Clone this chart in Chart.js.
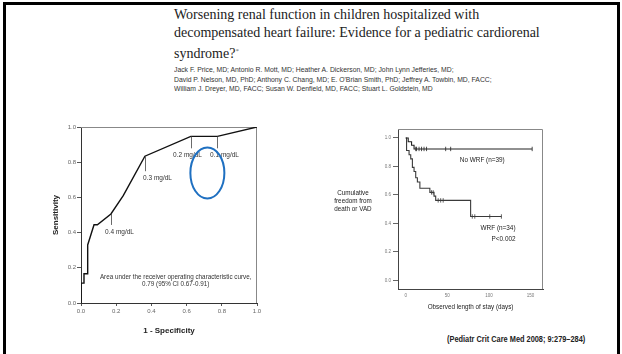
<!DOCTYPE html>
<html>
<head>
<meta charset="utf-8">
<script src="https://cdn.jsdelivr.net/npm/chart.js@4.4.1/dist/chart.umd.min.js"></script>
<style>
  html, body { margin: 0; padding: 0; background: #fff; }
  body { width: 622px; height: 354px; position: relative; overflow: hidden; }
  #frame { position: absolute; left: 3px; top: 2px; width: 611px; height: 400px; border: 3px solid #000; border-bottom: none; }
  #title { position: absolute; left: 174px; top: 6px; font: 14px/18px "Liberation Serif", serif; color: #222; white-space: nowrap; }
  #title sup { font-size: 7px; vertical-align: 5px; color: #666; }
  #authors { position: absolute; left: 174px; top: 65px; font: 7.5px/9.5px "Liberation Sans", sans-serif; color: #333; white-space: nowrap; transform: scaleX(0.91); transform-origin: 0 0; }
  #cite { position: absolute; left: 447px; top: 334px; font: bold 9px "Liberation Sans", sans-serif; color: #222; white-space: nowrap; transform: scaleX(0.82); transform-origin: 0 0; }
  #roc { position: absolute; left: 0; top: 110px; }
  #km { position: absolute; left: 330px; top: 115px; }
</style>
</head>
<body>
<div id="frame"></div>
<div id="title">Worsening renal function in children hospitalized with<br>decompensated heart failure: Evidence for a pediatric cardiorenal<br>syndrome?<sup>*</sup></div>
<div id="authors">Jack F. Price, MD; Antonio R. Mott, MD; Heather A. Dickerson, MD; John Lynn Jefferies, MD;<br>David P. Nelson, MD, PhD; Anthony C. Chang, MD; E. O'Brian Smith, PhD; Jeffrey A. Towbin, MD, FACC;<br>William J. Dreyer, MD, FACC; Susan W. Denfield, MD, FACC; Stuart L. Goldstein, MD</div>
<canvas id="roc" width="280" height="244"></canvas>
<canvas id="km" width="240" height="200"></canvas>
<div id="cite">(Pediatr Crit Care Med 2008; 9:279–284)</div>
<script>
// ROC curve, creatinine rise cut-offs
const rocFpr = [0, 0, 0.017, 0.017, 0.038, 0.038, 0.074, 0.093, 0.17, 0.24, 0.363, 0.624, 0.775, 1.0];
const rocTpr = [0, 0.113, 0.113, 0.166, 0.166, 0.33, 0.445, 0.445, 0.506, 0.61, 0.834, 0.947, 0.947, 1.0];
const rocTicks = [0, 0.2, 0.4, 0.6, 0.8, 1.0];
const cutoffLabels = ['0.4 mg/dL', '0.3 mg/dL', '0.2 mg/dL', '0.1 mg/dL'];
const cutoffFpr = [0.17, 0.363, 0.624, 0.775];
const cutoffTpr = [0.506, 0.834, 0.947, 0.947];
const aucLines = ['Area under the receiver operating characteristic curve,', '0.79 (95% CI 0.67-0.91)'];

// Kaplan-Meier, freedom from death or VAD
const noWrfDays = [0, 3, 7, 10, 152];
const noWrfSurv = [1.0, 0.974, 0.949, 0.923, 0.923];
const noWrfCensorDays = [12, 13, 16, 19, 22, 25, 48, 54, 152];
const wrfDays = [0, 1, 4, 6, 8, 10, 12, 14, 17, 29, 34, 36, 78, 115];
const wrfSurv = [1.0, 0.912, 0.882, 0.853, 0.794, 0.765, 0.721, 0.691, 0.647, 0.618, 0.592, 0.562, 0.449, 0.449];
const wrfCensorDays = [31, 33, 39, 42, 45, 80, 83, 101, 115];
const kmYTicks = [0, 0.2, 0.4, 0.6, 0.8, 1.0];
const kmXTicks = [0, 50, 100, 150];
const groupLabels = ['No WRF (n=39)', 'WRF (n=34)', 'P<0.002'];

const SANS = '"Liberation Sans", Arial, sans-serif';

// survival level at a censoring time (last step at or before it)
function levelAt(days, surv, t) {
  let v = surv[0];
  for (let i = 0; i < days.length; i++) if (days[i] <= t) v = surv[i];
  return v;
}

const plotFrame = {
  id: 'plotFrame',
  beforeDatasetsDraw(chart, args, opts) {
    const { ctx, chartArea: a } = chart;
    ctx.save();
    ctx.strokeStyle = opts.color || '#888';
    ctx.lineWidth = 1;
    ctx.beginPath();
    ctx.moveTo(a.left, a.top + 0.5);
    ctx.lineTo(a.right - 0.5, a.top + 0.5);
    ctx.lineTo(a.right - 0.5, a.bottom);
    ctx.stroke();
    ctx.restore();
  }
};

const rocNotes = {
  id: 'rocNotes',
  afterDatasetsDraw(chart) {
    const { ctx, scales: { x, y } } = chart;
    const drop = [11, 15, 12, 12];
    const dx = [8, 12, -4, 7];
    const dy = [18, 22, 19, 19];
    ctx.save();
    ctx.strokeStyle = '#444';
    ctx.lineWidth = 0.8;
    ctx.fillStyle = '#333';
    ctx.font = '6.5px ' + SANS;
    ctx.textAlign = 'center';
    ctx.textBaseline = 'middle';
    cutoffLabels.forEach((lab, i) => {
      const px = Math.round(x.getPixelForValue(cutoffFpr[i])) + 0.5;
      const py = y.getPixelForValue(cutoffTpr[i]);
      ctx.beginPath();
      ctx.moveTo(px, py);
      ctx.lineTo(px, py + drop[i]);
      ctx.stroke();
      ctx.fillText(lab, px + dx[i], py + dy[i]);
    });
    ctx.font = '6.3px ' + SANS;
    const cx = x.getPixelForValue(0.538);
    const cy = y.getPixelForValue(0.144);
    aucLines.forEach((t, i) => ctx.fillText(t, cx, cy + i * 7));
    // highlight ring
    ctx.strokeStyle = '#1f70c1';
    ctx.lineWidth = 2;
    ctx.beginPath();
    ctx.ellipse(x.getPixelForValue(0.718), y.getPixelForValue(0.739), 17, 25.5, 0, 0, Math.PI * 2);
    ctx.stroke();
    ctx.restore();
  }
};

const kmNotes = {
  id: 'kmNotes',
  afterDatasetsDraw(chart) {
    const { ctx, chartArea: a, scales: { x, y } } = chart;
    ctx.save();
    ctx.fillStyle = '#222';
    ctx.font = '6.4px ' + SANS;
    ctx.textBaseline = 'middle';
    ctx.textAlign = 'center';
    ctx.fillText(groupLabels[0], x.getPixelForValue(92), y.getPixelForValue(0.846));
    ctx.textAlign = 'right';
    ctx.fillText(groupLabels[1], x.getPixelForValue(132), y.getPixelForValue(0.368));
    ctx.fillText(groupLabels[2], x.getPixelForValue(132), y.getPixelForValue(0.286));
    ctx.textAlign = 'center';
    ctx.font = '6.3px ' + SANS;
    ['Cumulative', 'freedom from', 'death or VAD'].forEach((t, i) => {
      ctx.fillText(t, a.left - 45, a.top + 64 + i * 8.2);
    });
    ctx.restore();
  }
};

new Chart(document.getElementById('roc'), {
  type: 'scatter',
  data: {
    datasets: [{
      data: rocFpr.map((v, i) => ({ x: v, y: rocTpr[i] })),
      showLine: true,
      borderColor: '#111',
      borderWidth: 1.4,
      pointRadius: 0,
      tension: 0
    }]
  },
  options: {
    responsive: false,
    animation: false,
    layout: { padding: { left: 0, top: 17, right: 23, bottom: 0 } },
    plugins: { legend: { display: false }, tooltip: { enabled: false }, plotFrame: { color: '#888' } },
    scales: {
      x: {
        type: 'linear', min: 0, max: 1,
        afterBuildTicks: s => { s.ticks = rocTicks.map(v => ({ value: v })); },
        afterFit: s => { s.height = 51; },
        ticks: { font: { size: 6, family: SANS }, color: '#666', padding: 2, maxRotation: 0, callback: v => v.toFixed(1) },
        grid: { drawOnChartArea: false, tickLength: 3, color: '#555' },
        border: { color: '#333', width: 1 },
        title: { display: true, text: '1 - Specificity', color: '#222', font: { size: 8, weight: 'bold', family: SANS }, padding: { top: 0, bottom: 18 } }
      },
      y: {
        type: 'linear', min: 0, max: 1,
        afterBuildTicks: s => { s.ticks = rocTicks.map(v => ({ value: v })); },
        afterFit: s => { s.width = 81; },
        ticks: { font: { size: 6, family: SANS }, color: '#666', padding: 1, callback: v => v.toFixed(1) },
        grid: { drawOnChartArea: false, tickLength: 4, color: '#555' },
        border: { color: '#333', width: 1 },
        title: { display: true, text: 'Sensitivity', color: '#222', font: { size: 8, weight: 'bold', family: SANS }, padding: { top: 51, bottom: 0 } }
      }
    }
  },
  plugins: [plotFrame, rocNotes]
});

const censorStyle = { showLine: false, pointStyle: 'line', rotation: 90, pointRadius: 2.2, pointBorderWidth: 0.8 };

new Chart(document.getElementById('km'), {
  type: 'scatter',
  data: {
    datasets: [
      { data: noWrfDays.map((d, i) => ({ x: d, y: noWrfSurv[i] })), showLine: true, stepped: true, borderColor: '#222', borderWidth: 1.1, pointRadius: 0 },
      { data: wrfDays.map((d, i) => ({ x: d, y: wrfSurv[i] })), showLine: true, stepped: true, borderColor: '#3a3a3a', borderWidth: 1.1, pointRadius: 0 },
      Object.assign({ data: noWrfCensorDays.map(d => ({ x: d, y: levelAt(noWrfDays, noWrfSurv, d) })), borderColor: '#222' }, censorStyle),
      Object.assign({ data: wrfCensorDays.map(d => ({ x: d, y: levelAt(wrfDays, wrfSurv, d) })), borderColor: '#3a3a3a' }, censorStyle)
    ]
  },
  options: {
    responsive: false,
    animation: false,
    layout: { padding: { left: 0, top: 14, right: 27, bottom: 0 } },
    plugins: { legend: { display: false }, tooltip: { enabled: false }, plotFrame: { color: '#888' } },
    scales: {
      x: {
        type: 'linear', min: -9.3, max: 165,
        afterBuildTicks: s => { s.ticks = kmXTicks.map(v => ({ value: v })); },
        afterFit: s => { s.height = 26; },
        ticks: { font: { size: 4.5, family: SANS }, color: '#777', padding: 4.3, maxRotation: 0 },
        grid: { drawOnChartArea: false, drawTicks: false },
        border: { color: '#444', width: 1 },
        title: { display: true, text: 'Observed length of stay (days)', color: '#222', font: { size: 6.3, family: SANS }, padding: { top: 0, bottom: 3.5 } }
      },
      y: {
        type: 'linear', min: -0.06, max: 1.063,
        afterBuildTicks: s => { s.ticks = kmYTicks.map(v => ({ value: v })); },
        afterFit: s => { s.width = 68; },
        ticks: { font: { size: 4.5, family: SANS }, color: '#777', padding: 2, callback: v => v.toFixed(1) },
        grid: { drawOnChartArea: false, tickLength: 5, color: '#666' },
        border: { color: '#444', width: 1 }
      }
    }
  },
  plugins: [plotFrame, kmNotes]
});
</script>
</body>
</html>
